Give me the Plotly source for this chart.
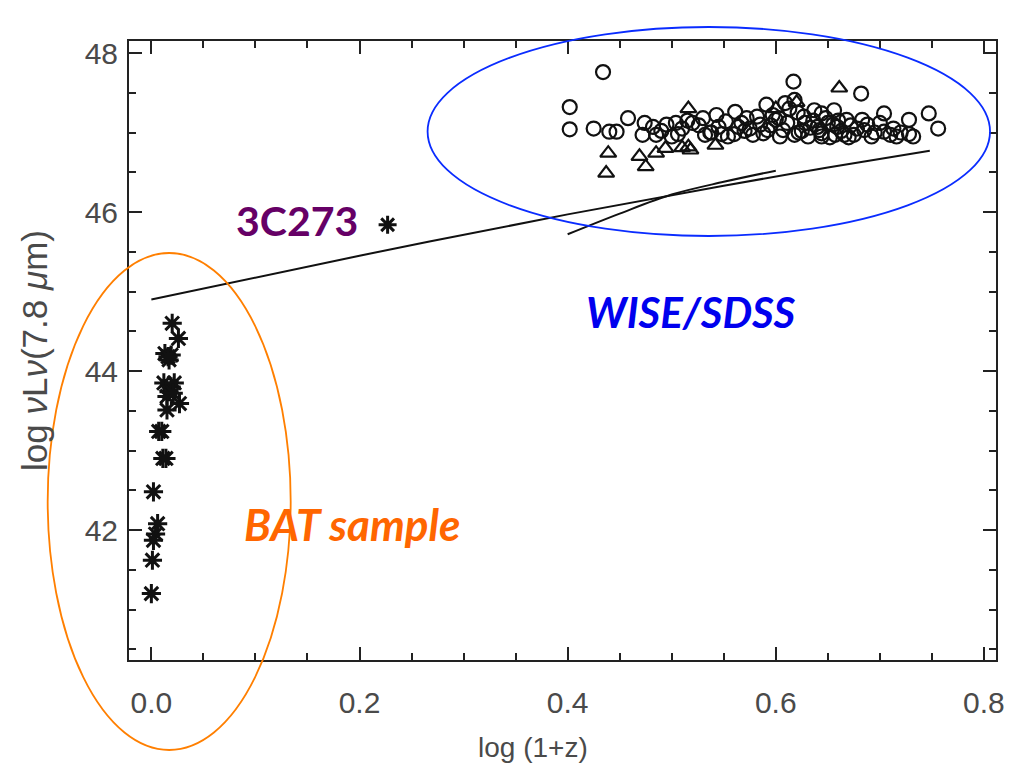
import plotly.graph_objects as go

# ---------------- data ----------------
bat_x = [0.020, 0.026, 0.013, 0.017, 0.019, 0.012, 0.017, 0.015, 0.027, 0.015,
         0.007, 0.010, 0.011, 0.014, 0.002, 0.006, 0.004, 0.002, 0.001, 0.000,
         0.019, 0.022, 0.016, 0.021]
bat_y = [44.60, 44.41, 44.22, 44.14, 44.20, 43.85, 43.74, 43.68, 43.59, 43.51,
         43.24, 43.24, 42.90, 42.90, 42.48, 42.08, 41.95, 41.87, 41.62, 41.20,
         43.80, 43.85, 44.18, 43.72]

q3c273_x = [0.227]
q3c273_y = [45.84]

wise_circ_x = [0.434, 0.402, 0.402, 0.425, 0.440, 0.447, 0.458, 0.474, 0.472, 0.482,
               0.485, 0.504, 0.490, 0.495, 0.500, 0.510, 0.515,
               0.526, 0.543, 0.545, 0.561, 0.564, 0.572, 0.578, 0.554, 0.532,
               0.591, 0.597, 0.592, 0.604, 0.609, 0.618, 0.621, 0.611, 0.628, 0.637,
               0.640, 0.618, 0.631, 0.644, 0.617,
               0.644, 0.650, 0.659, 0.666, 0.657, 0.672, 0.675, 0.644, 0.692, 0.704,
               0.716, 0.732, 0.682, 0.656, 0.683, 0.704, 0.728, 0.747, 0.756, 0.710,
               0.728, 0.685, 0.585, 0.570, 0.552, 0.537, 0.520, 0.600, 0.625, 0.660,
               0.560, 0.567, 0.575, 0.582, 0.588, 0.595, 0.603, 0.607, 0.613, 0.622,
               0.627, 0.633, 0.636, 0.642, 0.648, 0.652, 0.655, 0.663, 0.668, 0.670,
               0.678, 0.688, 0.695, 0.700, 0.713, 0.720, 0.538, 0.548, 0.530, 0.506]
wise_circ_y = [47.76, 47.32, 47.04, 47.05, 47.01, 47.01, 47.18, 47.12, 46.97, 47.07,
               46.97, 47.12, 47.02, 47.10, 46.95, 47.05, 47.15,
               47.09, 47.22, 47.07, 47.26, 47.07, 47.18, 46.97, 46.95, 46.97,
               47.35, 47.22, 47.03, 46.95, 47.37, 47.41, 47.25, 47.12, 47.12, 47.28,
               47.07, 46.97, 46.95, 46.95, 47.64,
               47.24, 47.12, 47.07, 46.97, 46.97, 47.09, 46.97, 46.99, 46.95, 47.01,
               46.95, 46.95, 47.49, 47.28, 47.16, 47.24, 47.16, 47.24, 47.05, 46.97,
               46.98, 47.03, 47.10, 47.02, 47.14, 47.00, 47.12, 47.16, 47.02, 47.15,
               46.98, 47.12, 47.05, 47.20, 46.99, 47.09, 47.18, 47.03, 47.30, 47.00,
               47.20, 47.06, 47.15, 47.03, 47.18, 46.94, 47.10, 47.02, 47.16, 46.94,
               47.05, 47.10, 47.00, 47.12, 47.05, 47.00, 47.00, 46.98, 47.18, 46.98]

wise_tri_x = [0.439, 0.437, 0.469, 0.475, 0.485, 0.494, 0.516, 0.516, 0.542, 0.661,
              0.510, 0.518, 0.620, 0.600]
wise_tri_y = [46.74, 46.49, 46.70, 46.57, 46.74, 46.80, 47.30, 46.82, 46.84, 47.56,
              46.81, 46.78, 47.38, 47.30]

line1_x = [0.0, 0.2, 0.4, 0.55, 0.65, 0.748]
line1_y = [44.90, 45.45, 45.97, 46.33, 46.56, 46.77]
line2_x = [0.40, 0.45, 0.50, 0.55, 0.60]
line2_y = [45.72, 45.98, 46.22, 46.38, 46.52]

x_ticks = [0.0, 0.2, 0.4, 0.6, 0.8]
x_ticktext = ["0.0", "0.2", "0.4", "0.6", "0.8"]
y_ticks = [42, 44, 46, 48]
y_ticktext = ["42", "44", "46", "48"]

# ---------------- figure ----------------
fig = go.Figure()

fig.add_trace(go.Scatter(x=line1_x, y=line1_y, mode="lines",
                         line=dict(color="#111111", width=2, shape="spline"),
                         showlegend=False, hoverinfo="skip"))
fig.add_trace(go.Scatter(x=line2_x, y=line2_y, mode="lines",
                         line=dict(color="#111111", width=2, shape="spline"),
                         showlegend=False, hoverinfo="skip"))

fig.add_trace(go.Scatter(x=wise_circ_x, y=wise_circ_y, mode="markers",
                         marker=dict(symbol="circle-open", size=14,
                                     line=dict(color="#111111", width=2.2),
                                     color="#111111"),
                         showlegend=False))
fig.add_trace(go.Scatter(x=wise_tri_x, y=wise_tri_y, mode="markers",
                         marker=dict(symbol="triangle-up-open", size=14,
                                     line=dict(color="#111111", width=2.2),
                                     color="#111111"),
                         showlegend=False))
fig.add_trace(go.Scatter(x=bat_x, y=bat_y, mode="markers",
                         marker=dict(symbol="asterisk-open", size=16,
                                     line=dict(color="#111111", width=3),
                                     color="#111111"),
                         showlegend=False))
fig.add_trace(go.Scatter(x=q3c273_x, y=q3c273_y, mode="markers",
                         marker=dict(symbol="asterisk-open", size=15,
                                     line=dict(color="#111111", width=3),
                                     color="#111111"),
                         showlegend=False))

base_font = "Liberation Sans, Arial, sans-serif"
tick_font = dict(family=base_font, size=30, color="#4a4a4a")
axis_common = dict(
    showgrid=False, zeroline=False, showline=True, linewidth=2, linecolor="#222222",
    mirror="ticks", ticks="inside", ticklen=13, tickwidth=2, tickcolor="#222222",
    tickfont=tick_font,
)

fig.update_xaxes(**axis_common, range=[-0.0215, 0.8116], tickvals=x_ticks,
                 ticktext=x_ticktext, ticklabelstandoff=15,
                 minor=dict(ticks="inside", ticklen=7, tickwidth=2, dtick=0.05,
                            tick0=0, tickcolor="#222222", showgrid=False))
fig.update_yaxes(**axis_common, range=[40.365, 48.151], tickvals=y_ticks,
                 ticktext=y_ticktext, ticklabelstandoff=3,
                 minor=dict(ticks="inside", ticklen=7, tickwidth=2, dtick=0.5,
                            tick0=40, tickcolor="#222222", showgrid=False),
                 title=dict(text="log <i>ν</i>L<i>ν</i>(7.8 <i>μ</i>m)", standoff=26,
                            font=dict(family=base_font, size=35, color="#4a4a4a")))

# x-axis title (placed slightly left of centre, as in the original)
fig.add_annotation(x=0.4657, y=-0.142, xref="paper", yref="paper",
                   text="log (1+z)", showarrow=False, yanchor="middle",
                   font=dict(family=base_font, size=28, color="#4a4a4a"))

# ellipses (paper coordinates, allowed to extend outside the frame)
fig.add_shape(type="circle", xref="paper", yref="paper",
              x0=0.3444, x1=0.9931, y0=0.685, y1=1.0226,
              line=dict(color="#0a2cff", width=1.8), layer="above")
fig.add_shape(type="circle", xref="paper", yref="paper",
              x0=-0.0938, x1=0.1865, y0=-0.1454, y1=0.6575,
              line=dict(color="#ff7f00", width=1.8), layer="above")

label_font = "Lato, Open Sans, sans-serif"
fig.add_annotation(x=0.1396, y=45.89, xref="x", yref="y", text="<b>3C273</b>",
                   showarrow=False,
                   font=dict(family=label_font, size=41, color="#660066"))
fig.add_annotation(x=0.519, y=44.74, xref="x", yref="y",
                   text="<b><i>WISE/SDSS</i></b>", showarrow=False,
                   font=dict(family=label_font, size=42, color="#0000ee"))
fig.add_annotation(x=0.193, y=42.08, xref="x", yref="y",
                   text="<b><i>BAT sample</i></b>", showarrow=False,
                   font=dict(family=label_font, size=44, color="#ff6600"))

fig.update_layout(
    width=1017, height=768,
    margin=dict(l=129, r=14, t=41, b=108),
    paper_bgcolor="white", plot_bgcolor="white",
    showlegend=False,
)

fig.write_html("out.html")
